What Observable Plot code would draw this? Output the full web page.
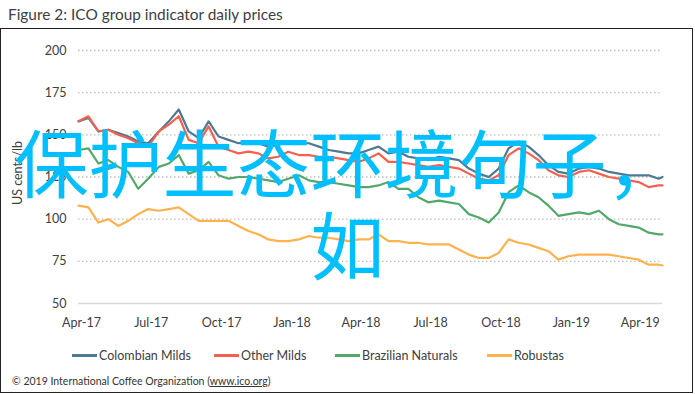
<!DOCTYPE html>
<html>
<head>
<meta charset="utf-8">
<script src="https://cdn.jsdelivr.net/npm/d3@7"></script>
<script src="https://cdn.jsdelivr.net/npm/@observablehq/plot@0.6"></script>
<style>
  html, body { margin: 0; padding: 0; background: #fff; }
  #wrap { position: relative; width: 695px; height: 394px; overflow: hidden; font-family: Lato, "Open Sans", sans-serif; color: #404040; }
  #frame { position: absolute; left: 0; top: 28px; width: 691px; height: 363px; border: 1.5px solid #222; box-sizing: content-box; }
  #title { position: absolute; left: 8px; top: 5px; font-size: 15.4px; color: #404040; white-space: nowrap; }
  #ylab { position: absolute; left: 17px; top: 173px; transform: translate(-50%, -50%) rotate(-90deg); font-size: 12.5px; color: #404040; white-space: nowrap; }
  #chart { position: absolute; left: 0; top: 35px; }
  .leg { position: absolute; top: 348px; display: flex; align-items: center; font-size: 12.5px; color: #404040; white-space: nowrap; }
  .leg .sw { width: 25px; height: 2.5px; margin-right: 2px; }
  #caption { position: absolute; left: 12px; top: 375px; font-size: 10.5px; color: #333; white-space: nowrap; }
  #caption u { text-decoration: underline; }
  #overlay { position: absolute; left: 0; top: 119px; width: 695px; text-align: center; font-family: "Noto Sans CJK SC", sans-serif; font-size: 74px; line-height: 82px; color: #00bfff; white-space: nowrap; }
</style>
</head>
<body>
<div id="wrap">
  <div id="title">Figure 2: ICO group indicator daily prices</div>
  <div id="frame"></div>
  <div id="ylab">US cents/lb</div>
  <div id="chart"></div>
  <div id="legend"></div>
  <div id="caption">© 2019 International Coffee Organization (<u>www.ico.org</u>)</div>
  <div id="overlay">保护生态环境句子，<br>如</div>
</div>
<script>
const dates = ["2017-03-28","2017-04-10","2017-04-23","2017-05-06","2017-05-19","2017-06-01","2017-06-14","2017-06-27","2017-07-11","2017-07-24",
  "2017-08-06","2017-08-19","2017-09-01","2017-09-14","2017-09-27","2017-10-10","2017-10-23","2017-11-05","2017-11-18","2017-12-01",
  "2017-12-14","2017-12-27","2018-01-10","2018-01-23","2018-02-05","2018-02-18","2018-03-03","2018-03-16","2018-03-29","2018-04-11",
  "2018-04-24","2018-05-07","2018-05-20","2018-06-02","2018-06-15","2018-06-28","2018-07-12","2018-07-25","2018-08-07","2018-08-20",
  "2018-09-02","2018-09-15","2018-09-28","2018-10-11","2018-10-24","2018-11-06","2018-11-19","2018-12-02","2018-12-15","2018-12-28",
  "2019-01-11","2019-01-24","2019-02-06","2019-02-19","2019-03-04","2019-03-17","2019-03-30","2019-04-12","2019-04-25","2019-04-30"];

const colombianMilds = [158,160,152,153,151,149,146,145,152,158,
  165,152,148,158,149,147,145,146,145,143,
  144,146,145,145,143,141,140,139,139,141,
  143,139,140,137,136,135,137,136,135,130,
  127,125,130,142,146,143,138,132,128,127,
  130,131,130,128,127,126,126,126,124,125];

const otherMilds = [158,161,152,153,150,148,145,143,152,156,
  161,147,145,155,143,141,139,140,139,136,
  137,140,138,138,137,137,136,135,134,136,
  139,134,134,133,132,131,132,131,130,127,
  124,123,126,138,142,139,135,129,126,125,
  128,129,127,125,124,123,122,119,120,120];

const brazilianNaturals = [141,142,133,135,131,128,118,124,131,133,
  138,127,129,134,126,124,125,125,124,123,
  122,124,126,123,122,122,121,120,119,119,
  120,122,118,118,113,110,111,110,109,103,
  101,98,104,116,120,116,113,108,102,103,
  104,103,105,100,97,96,95,92,91,91];

const robustas = [108,107,98,100,96,99,103,106,105,106,
  107,103,99,99,99,99,96,93,91,88,
  87,87,88,90,89,89,88,87,88,88,
  91,87,87,86,86,85,85,85,82,79,
  77,77,80,88,86,85,83,81,76,78,
  79,79,79,79,78,77,76,73,73,72.5];

const seriesNames = ["Colombian Milds", "Other Milds", "Brazilian Naturals", "Robustas"];
const seriesColors = ["#4f7893", "#f5614e", "#52a86b", "#fdb24e"];
const yTicks = [50, 75, 100, 125, 150, 175, 200];
const xTicks = ["2017-04-01","2017-07-01","2017-10-01","2018-01-01","2018-04-01","2018-07-01","2018-10-01","2019-01-01","2019-04-01"];
const legendLeft = [72, 214, 335, 487];

const seriesValues = [colombianMilds, otherMilds, brazilianNaturals, robustas];
const data = seriesNames.flatMap((name, i) =>
  dates.map((d, j) => ({date: new Date(d), value: seriesValues[i][j], series: name})));

const chart = Plot.plot({
  width: 695,
  height: 300,
  marginLeft: 78,
  marginRight: 33,
  marginTop: 15,
  marginBottom: 32,
  style: {fontFamily: "Lato, sans-serif", fontSize: "12.5px", color: "#404040", background: "transparent", overflow: "visible"},
  x: {type: "utc", domain: [new Date("2017-03-28"), new Date("2019-04-30")], ticks: xTicks.map(d => new Date(d)),
      tickFormat: d3.utcFormat("%b-%y"), tickSize: 0, tickPadding: 15, label: null},
  y: {domain: [50, 200], ticks: yTicks, tickSize: 0, tickPadding: 12, label: null},
  color: {domain: seriesNames, range: seriesColors},
  marks: [
    Plot.ruleY(yTicks.filter(v => v > 50), {stroke: "#bdbdbd", strokeDasharray: "1.5,2.5", strokeWidth: 1.3}),
    Plot.ruleY([50], {stroke: "#d9d9d9", strokeWidth: 1.5}),
    Plot.lineY(data, {x: "date", y: "value", stroke: "series", strokeWidth: 2.2, strokeLinejoin: "round"})
  ]
});
document.getElementById("chart").appendChild(chart);

const legend = document.getElementById("legend");
seriesNames.forEach((name, i) => {
  const item = document.createElement("div");
  item.className = "leg";
  item.style.left = legendLeft[i] + "px";
  const sw = document.createElement("span");
  sw.className = "sw";
  sw.style.background = seriesColors[i];
  const tx = document.createElement("span");
  tx.textContent = name;
  item.appendChild(sw);
  item.appendChild(tx);
  legend.appendChild(item);
});
</script>
</body>
</html>
